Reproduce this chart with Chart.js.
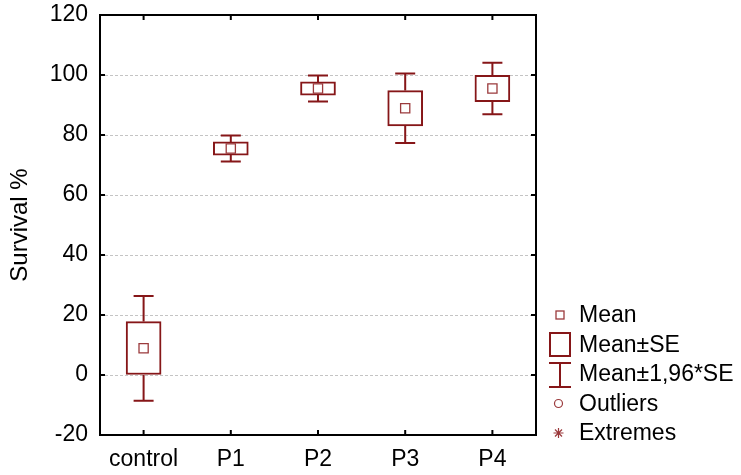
<!DOCTYPE html>
<html>
<head>
<meta charset="utf-8">
<title>Survival %</title>
<script src="https://cdn.jsdelivr.net/npm/chart.js@4/dist/chart.umd.min.js"></script>
<style>
  html, body { margin: 0; padding: 0; background: #fff; }
  #wrap { width: 741px; height: 475px; }
</style>
</head>
<body>
<div id="wrap"><canvas id="c" width="741" height="475"></canvas></div>
<script>
// Group names and summary statistics
const categories = ['control', 'P1', 'P2', 'P3', 'P4'];
const means = [8.9, 75.5, 95.5, 88.9, 95.5];
const standardErrors = [8.9, 2.2, 2.2, 5.9, 4.4];
const yTicks = [-20, 0, 20, 40, 60, 80, 100, 120];
const legendLabels = ['Mean', 'Mean±SE', 'Mean±1,96*SE', 'Outliers', 'Extremes'];

const RED = '#861618';
const MEAN_RED = '#9b3a3c';
const FONT = '"Liberation Sans", Arial, sans-serif';

// Box = mean ± SE, whiskers = mean ± 1.96*SE
const boxRanges = means.map((m, i) => [m - standardErrors[i], m + standardErrors[i]]);
const whiskerRanges = means.map((m, i) => [m - 1.96 * standardErrors[i], m + 1.96 * standardErrors[i]]);

const whiskerPlugin = {
  id: 'whiskers',
  beforeDatasetsDraw(chart) {
    const { ctx, scales: { x, y } } = chart;
    ctx.save();
    ctx.strokeStyle = RED;
    ctx.lineWidth = 2;
    categories.forEach((c, i) => {
      const px = x.getPixelForValue(i);
      const wLo = y.getPixelForValue(whiskerRanges[i][0]);
      const wHi = y.getPixelForValue(whiskerRanges[i][1]);
      const bLo = y.getPixelForValue(boxRanges[i][0]);
      const bHi = y.getPixelForValue(boxRanges[i][1]);
      ctx.beginPath();
      ctx.moveTo(px, wHi); ctx.lineTo(px, bHi);
      ctx.moveTo(px, bLo); ctx.lineTo(px, wLo);
      ctx.moveTo(px - 10, wHi); ctx.lineTo(px + 10, wHi);
      ctx.moveTo(px - 10, wLo); ctx.lineTo(px + 10, wLo);
      ctx.stroke();
    });
    ctx.restore();
  }
};

const framePlugin = {
  id: 'frame',
  afterDatasetsDraw(chart) {
    const { ctx, chartArea: a, scales: { x, y } } = chart;
    ctx.save();
    ctx.strokeStyle = '#000';
    ctx.lineWidth = 2;
    ctx.strokeRect(a.left, a.top, a.right - a.left, a.bottom - a.top);
    ctx.beginPath();
    yTicks.forEach(v => {
      const py = y.getPixelForValue(v);
      ctx.moveTo(a.left, py); ctx.lineTo(a.left + 5, py);
      ctx.moveTo(a.right, py); ctx.lineTo(a.right - 5, py);
    });
    categories.forEach((c, i) => {
      const px = x.getPixelForValue(i);
      ctx.moveTo(px, a.top); ctx.lineTo(px, a.top + 5);
      ctx.moveTo(px, a.bottom); ctx.lineTo(px, a.bottom - 5);
    });
    ctx.stroke();
    ctx.restore();
  }
};

const legendPlugin = {
  id: 'statLegend',
  afterDraw(chart) {
    const { ctx } = chart;
    const sx = 560, tx = 579, y0 = 315, step = 29.5;
    ctx.save();
    ctx.font = '23px ' + FONT;
    ctx.fillStyle = '#000';
    ctx.textBaseline = 'middle';
    ctx.textAlign = 'left';
    legendLabels.forEach((t, i) => ctx.fillText(t, tx, y0 + i * step + 1));

    // Mean
    let cy = y0;
    ctx.lineWidth = 1.3;
    ctx.strokeStyle = MEAN_RED;
    ctx.strokeRect(sx - 4, cy - 4, 8, 8);
    // Mean±SE
    cy = y0 + step;
    ctx.strokeStyle = RED;
    ctx.lineWidth = 2;
    ctx.strokeRect(sx - 10, cy - 11.5, 20, 23);
    // Mean±1,96*SE
    cy = y0 + 2 * step;
    ctx.beginPath();
    ctx.moveTo(sx - 11, cy - 11); ctx.lineTo(sx + 11, cy - 11);
    ctx.moveTo(sx - 11, cy + 13); ctx.lineTo(sx + 11, cy + 13);
    ctx.moveTo(sx, cy - 11); ctx.lineTo(sx, cy + 13);
    ctx.stroke();
    // Outliers
    cy = y0 + 3 * step;
    ctx.lineWidth = 1.2;
    ctx.strokeStyle = MEAN_RED;
    ctx.beginPath();
    ctx.arc(sx - 1.5, cy, 4, 0, Math.PI * 2);
    ctx.stroke();
    // Extremes
    cy = y0 + 4 * step;
    ctx.beginPath();
    ctx.moveTo(sx - 1.5, cy - 5); ctx.lineTo(sx - 1.5, cy + 5);
    ctx.moveTo(sx - 6.5, cy); ctx.lineTo(sx + 3.5, cy);
    ctx.moveTo(sx - 5, cy - 3.5); ctx.lineTo(sx + 2, cy + 3.5);
    ctx.moveTo(sx - 5, cy + 3.5); ctx.lineTo(sx + 2, cy - 3.5);
    ctx.stroke();
    ctx.restore();
  }
};

new Chart(document.getElementById('c'), {
  data: {
    labels: categories,
    datasets: [
      {
        type: 'bar',
        label: 'Mean±SE',
        data: boxRanges,
        backgroundColor: '#fff',
        borderColor: RED,
        borderWidth: 2,
        borderSkipped: false,
        barThickness: 35,
        order: 2
      },
      {
        type: 'line',
        label: 'Mean',
        data: means,
        showLine: false,
        pointStyle: 'rect',
        pointRadius: 6.5,
        pointBorderWidth: 1.3,
        pointBorderColor: MEAN_RED,
        pointBackgroundColor: '#fff',
        order: 1
      }
    ]
  },
  options: {
    responsive: false,
    animation: false,
    devicePixelRatio: 1,
    layout: { padding: { left: 0, top: 15, right: 205, bottom: 0 } },
    plugins: { legend: { display: false }, tooltip: { enabled: false } },
    scales: {
      x: {
        type: 'category',
        offset: true,
        grid: { display: false, drawTicks: false },
        border: { display: false },
        ticks: { color: '#000', font: { family: FONT, size: 23 }, padding: 11 },
        afterFit: s => { s.height = 40; s.paddingLeft = 0; s.paddingRight = 0; }
      },
      y: {
        min: -20,
        max: 120,
        afterBuildTicks: s => { s.ticks = yTicks.map(v => ({ value: v })); },
        grid: {
          drawTicks: false,
          lineWidth: 1,
          color: c => (c.tick && (c.tick.value === 120 || c.tick.value === -20)) ? 'rgba(0,0,0,0)' : '#c4c4c4'
        },
        border: { display: false, dash: [3, 2] },
        ticks: { color: '#000', font: { family: FONT, size: 23 }, padding: 12 },
        title: {
          display: true,
          text: 'Survival %',
          color: '#000',
          font: { family: FONT, size: 24 },
          padding: { top: 6, bottom: 0 }
        },
        afterFit: s => { s.width = 100; s.paddingTop = 0; s.paddingBottom = 0; }
      }
    }
  },
  plugins: [whiskerPlugin, framePlugin, legendPlugin]
});
</script>
</body>
</html>
